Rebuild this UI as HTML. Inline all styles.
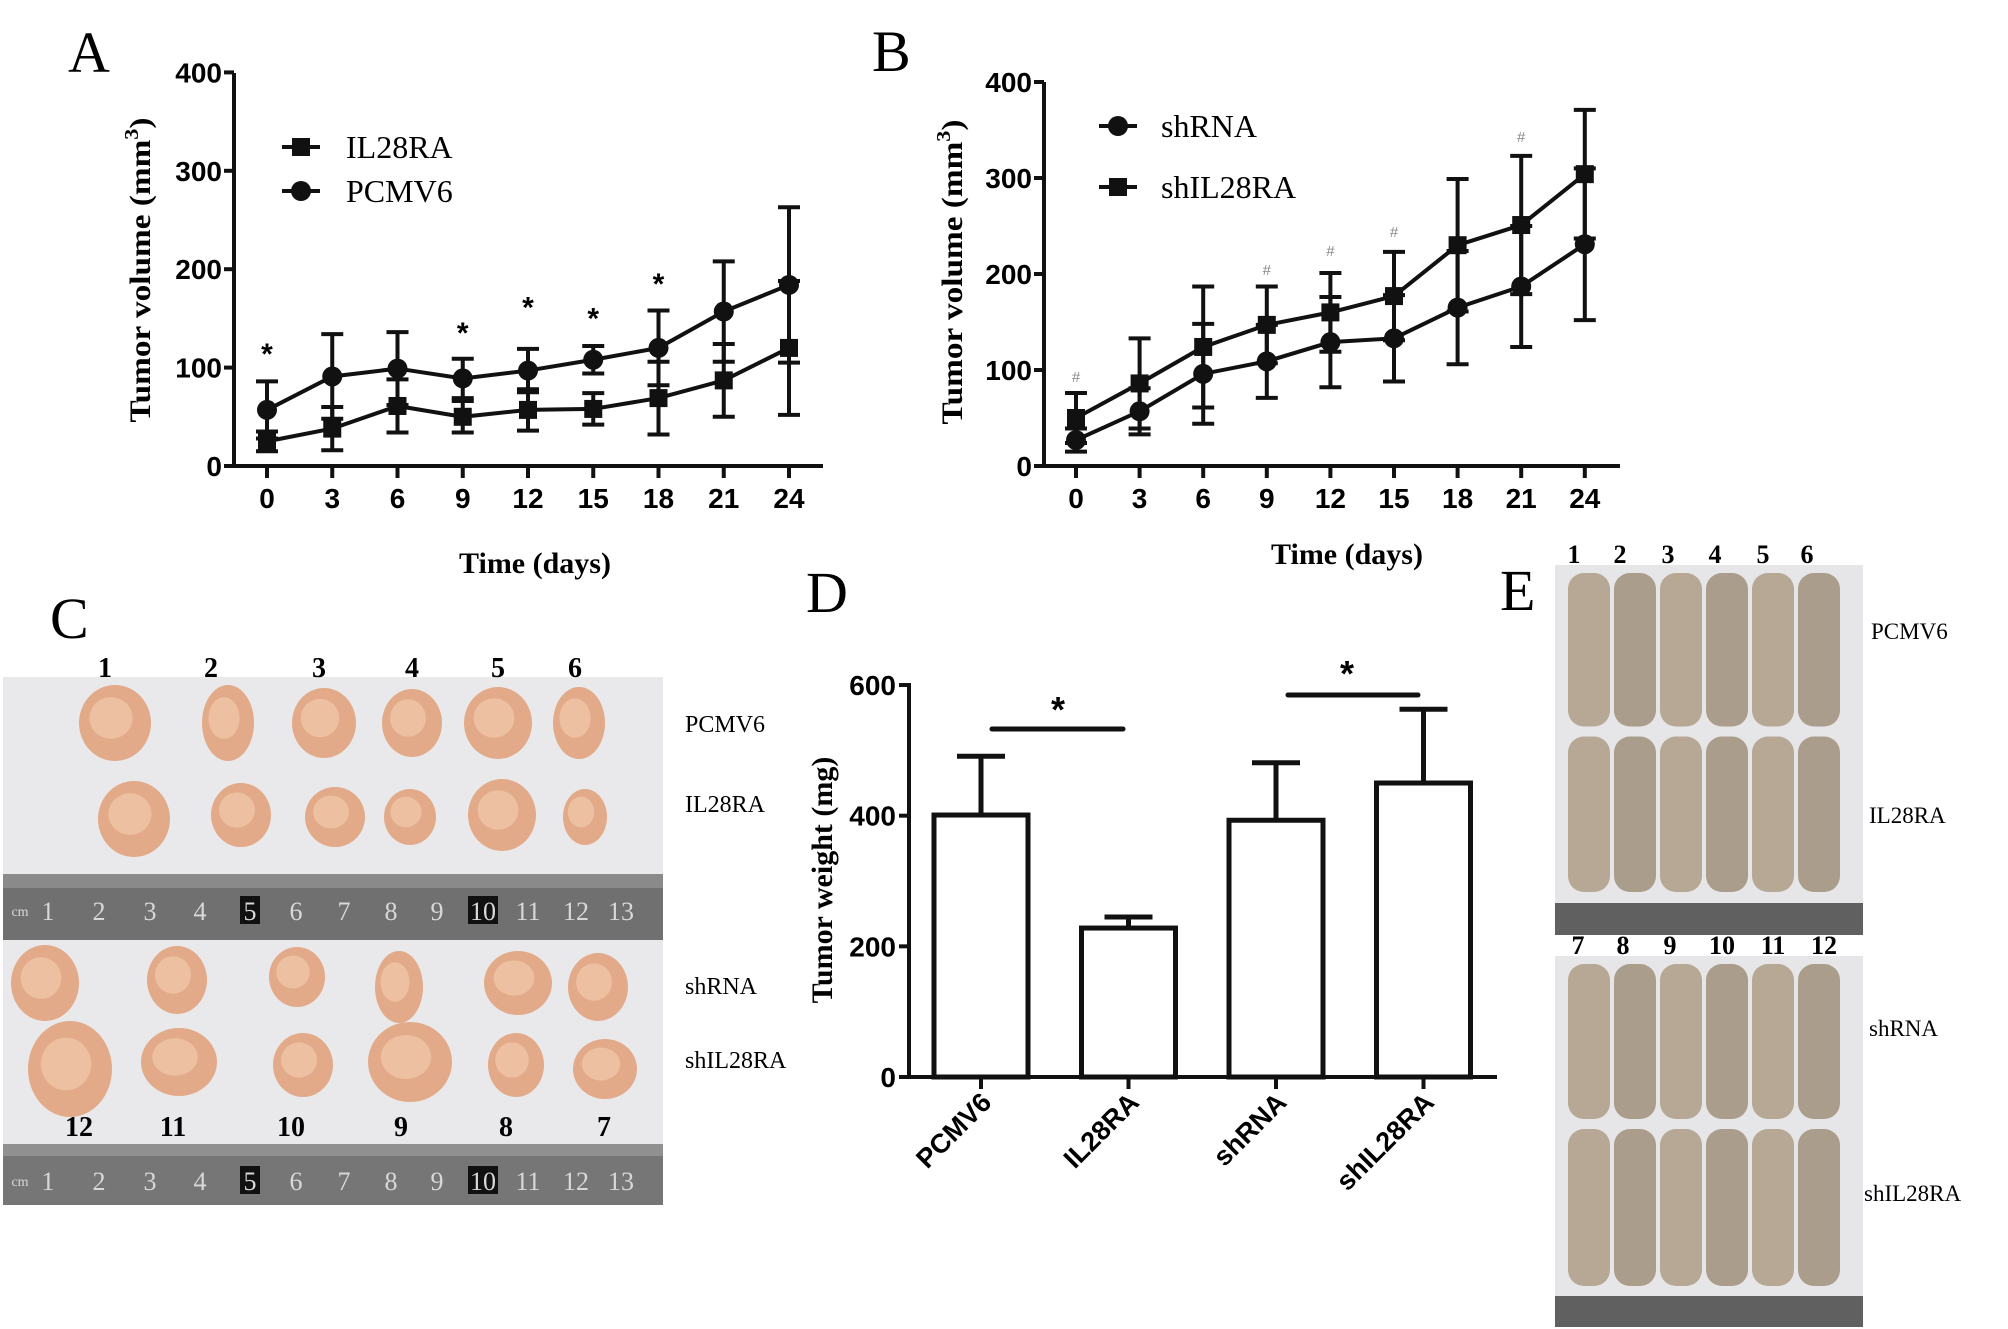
<!DOCTYPE html>
<html><head><meta charset="utf-8"><style>
html,body{margin:0;padding:0;background:#fff;}
svg{display:block;}
.serif{font-family:"Liberation Serif",serif;}
.sans{font-family:"Liberation Sans",sans-serif;}
</style></head><body>
<svg id="fig" width="2008" height="1329" viewBox="0 0 2008 1329" xmlns="http://www.w3.org/2000/svg">
<rect width="2008" height="1329" fill="#fff"/>
<text class="serif" x="68" y="72" font-size="58">A</text>
<text class="serif" x="872" y="71" font-size="58">B</text>
<text class="serif" x="50" y="638" font-size="58">C</text>
<text class="serif" x="806" y="612" font-size="58">D</text>
<text class="serif" x="1500" y="610" font-size="58">E</text>

<g id="chartA"></g>
<g id="chartB"></g>
<g id="chartD"></g>

<g>
  <rect x="3" y="677" width="660" height="528" fill="#e9e9ec"/>
  <rect x="3" y="874" width="660" height="66" fill="#707070"/>
  <rect x="3" y="874" width="660" height="14" fill="#8a8a8a"/>
  <rect x="3" y="1144" width="660" height="61" fill="#767676"/>
  <rect x="3" y="1144" width="660" height="12" fill="#909090"/>
  <g id="rulers" class="serif" font-size="26" fill="#d8d8d8" text-anchor="middle"></g>
  <g id="tumors"></g>
</g>
<g class="serif" font-weight="bold" font-size="28" text-anchor="middle">
  <text x="105" y="677">1</text><text x="211" y="677">2</text><text x="319" y="677">3</text><text x="412" y="677">4</text><text x="498" y="677">5</text><text x="575" y="677">6</text>
  <text x="79" y="1136">12</text><text x="173" y="1136">11</text><text x="291" y="1136">10</text><text x="401" y="1136">9</text><text x="506" y="1136">8</text><text x="604" y="1136">7</text>
</g>
<g class="serif" font-size="24">
  <text x="685" y="732">PCMV6</text><text x="685" y="812">IL28RA</text><text x="685" y="994">shRNA</text><text x="685" y="1068">shIL28RA</text>
</g>

<g>
  <rect x="1555" y="565" width="308" height="370" fill="#e6e6e8"/>
  <rect x="1555" y="903" width="308" height="32" fill="#606060"/>
  <rect x="1555" y="956" width="308" height="371" fill="#e6e6e8"/>
  <rect x="1555" y="1296" width="308" height="31" fill="#606060"/>
  <g id="mice"></g>
</g>
<g class="serif" font-weight="bold" font-size="26" text-anchor="middle">
  <text x="1574" y="563">1</text><text x="1620" y="563">2</text><text x="1668" y="563">3</text><text x="1715" y="563">4</text><text x="1763" y="563">5</text><text x="1807" y="563">6</text>
  <text x="1578" y="954">7</text><text x="1623" y="954">8</text><text x="1670" y="954">9</text><text x="1722" y="954">10</text><text x="1773" y="954">11</text><text x="1824" y="954">12</text>
</g>
<g class="serif" font-size="23">
  <text x="1871" y="639">PCMV6</text><text x="1869" y="823">IL28RA</text><text x="1869" y="1036">shRNA</text><text x="1864" y="1201">shIL28RA</text>
</g>
</svg>
<script>
// ---- Chart A data ----
const daysA = [0,3,6,9,12,15,18,21,24];
const il28raA = [25,38,61,50,57,58,69,87,120];
const il28raErrA = [10,22,27,16,21,16,37,37,68];
const pcmv6A = [57,91,99,89,97,108,120,157,184];
const pcmv6ErrA = [29,43,37,20,22,14,38,51,79];
const starDaysA = [0,9,12,15,18];
const starValsA = [116,137,163,152,187];
const yTicksA = [0,100,200,300,400];
// ---- Chart B data ----
const daysB = [0,3,6,9,12,15,18,21,24];
const shrnaB = [27,57,96,109,129,133,165,187,231];
const shrnaErrB = [12,24,52,38,47,45,59,63,79];
const shil28raB = [50,86,124,147,160,177,230,251,304];
const shil28raErrB = [26,47,63,40,41,46,69,72,67];
const hashDaysB = [0,9,12,15,21];
const hashValsB = [94,205,225,245,344];
const yTicksB = [0,100,200,300,400];
// ---- Chart D data ----
const groupsD = ["PCMV6","IL28RA","shRNA","shIL28RA"];
const weightD = [401,228,393,450];
const weightErrD = [90,17,88,113];
const yTicksD = [0,200,400,600];

const NS="http://www.w3.org/2000/svg";
function mk(parent,tag,attrs){const e=document.createElementNS(NS,tag);for(const k in attrs)e.setAttribute(k,attrs[k]);parent.appendChild(e);return e;}

function lineChart(g,cfg){
  const {x,y,x0,x1,y0,y1,ticks,days,series,titleX,titleY,ytitleX,ytitleY} = cfg;
  let e;
  e=mk(g,'line',{x1:x0,y1:y0,x2:x0,y2:y1,stroke:'#111','stroke-width':4});
  
  
  e=mk(g,'line',{x1:x0-6,y1:y0,x2:x1,y2:y0,stroke:'#111','stroke-width':4});
  
  
  ticks.forEach(t=>{
    mk(g,'line',{x1:x0-10,y1:y(t),x2:x0,y2:y(t),stroke:'#111','stroke-width':4});
    e=mk(g,'text',{x:x0-12,y:y(t)+10,'text-anchor':'end','font-size':28,'font-weight':'bold',class:'sans'});
    e.textContent=t;
    
    
  });
  days.forEach(d=>{
    mk(g,'line',{x1:x(d),y1:y0,x2:x(d),y2:y0+12,stroke:'#111','stroke-width':4});
    e=mk(g,'text',{x:x(d),y:y0+42,'text-anchor':'middle','font-size':28,'font-weight':'bold',class:'sans'});
    e.textContent=d;
    
    
  });
  series.forEach(s=>{
    const pts=days.map((d,i)=>x(d)+','+y(s.vals[i])).join(' ');
    e=mk(g,'polyline',{points:pts,fill:'none',stroke:'#111','stroke-width':4});
    
    
    days.forEach((d,i)=>{
      const cx=x(d),hi=y(s.vals[i]+s.err[i]),lo=y(s.vals[i]-s.err[i]);
      e=mk(g,'path',{d:`M${cx},${hi}V${lo}M${cx-11},${hi}H${cx+11}M${cx-11},${lo}H${cx+11}`,stroke:'#111','stroke-width':4,fill:'none'});
      
      
      if(s.shape==='sq'){e=mk(g,'rect',{x:cx-9,y:y(s.vals[i])-9,width:18,height:18,fill:'#111'});}
      else{e=mk(g,'circle',{cx:cx,cy:y(s.vals[i]),r:10,fill:'#111'});}
      
      
    });
  });
  e=mk(g,'text',{x:titleX,y:titleY,'text-anchor':'middle','font-size':30,'font-weight':'bold',class:'serif'});
  e.textContent='Time (days)';
  
  
  e=mk(g,'text',{x:0,y:0,'text-anchor':'middle','font-size':30,'font-weight':'bold',class:'serif',transform:`translate(${ytitleX},${ytitleY}) rotate(-90)`,textLength:305,lengthAdjust:'spacingAndGlyphs'});
  e.innerHTML='Tumor volume (mm<tspan dy="-12" font-size="20">3</tspan><tspan dy="12">)</tspan>';
  
  
}
function legend(g,items){
  items.forEach(it=>{
    const lg=mk(g,'g',{});
    
    
    mk(lg,'line',{x1:it.lx,y1:it.y,x2:it.lx+38,y2:it.y,stroke:'#111','stroke-width':4});
    if(it.shape==='sq')mk(lg,'rect',{x:it.lx+10,y:it.y-9,width:18,height:18,fill:'#111'});
    else mk(lg,'circle',{cx:it.lx+19,cy:it.y,r:10,fill:'#111'});
    const t=mk(lg,'text',{x:it.tx,y:it.y+11,'font-size':32,class:'serif'});
    t.textContent=it.label;
  });
}

const gA=document.getElementById('chartA');
const xA=d=>267+d/3*65.25, yA=v=>466-v*0.984;
lineChart(gA,{x:xA,y:yA,x0:234,x1:823,y0:466,y1:73,ticks:yTicksA,days:daysA,
  series:[{name:'il28ra',vals:il28raA,err:il28raErrA,shape:'sq'},{name:'pcmv6',vals:pcmv6A,err:pcmv6ErrA,shape:'ci'}],
  titleX:535,titleY:573,ytitleX:150,ytitleY:270});
starDaysA.forEach((d,i)=>{
  const e=mk(gA,'text',{x:xA(d),y:yA(starValsA[i])+12,'text-anchor':'middle','font-size':30,'font-weight':'bold',class:'sans'});
  e.textContent='*';
  
  
});
legend(gA,[{lx:282,tx:346,y:147,label:'IL28RA',shape:'sq'},{lx:282,tx:346,y:191,label:'PCMV6',shape:'ci'}]);

const gB=document.getElementById('chartB');
const xB=d=>1076+d/3*63.6, yB=v=>466-v*0.96;
lineChart(gB,{x:xB,y:yB,x0:1044,x1:1620,y0:466,y1:82,ticks:yTicksB,days:daysB,
  series:[{name:'shrna',vals:shrnaB,err:shrnaErrB,shape:'ci'},{name:'shil28ra',vals:shil28raB,err:shil28raErrB,shape:'sq'}],
  titleX:1347,titleY:564,ytitleX:962,ytitleY:272});
hashDaysB.forEach((d,i)=>{
  const e=mk(gB,'text',{x:xB(d),y:yB(hashValsB[i])+6,'text-anchor':'middle','font-size':15,fill:'#888',class:'sans'});
  e.textContent='#';
  
  
});
legend(gB,[{lx:1099,tx:1161,y:126,label:'shRNA',shape:'ci'},{lx:1099,tx:1161,y:187,label:'shIL28RA',shape:'sq'}]);

const gD=document.getElementById('chartD');
const yD=v=>1077-v*0.6533, xD=i=>981+i*147.5;
(function(){
  let e;
  e=mk(gD,'line',{x1:909,y1:1079,x2:909,y2:683,stroke:'#111','stroke-width':4});
  
  
  e=mk(gD,'line',{x1:903,y1:1077,x2:1497,y2:1077,stroke:'#111','stroke-width':4});
  
  
  yTicksD.forEach(t=>{
    mk(gD,'line',{x1:899,y1:yD(t),x2:909,y2:yD(t),stroke:'#111','stroke-width':4});
    e=mk(gD,'text',{x:896,y:yD(t)+10,'text-anchor':'end','font-size':28,'font-weight':'bold',class:'sans'});
    e.textContent=t;
    
    
  });
  groupsD.forEach((gname,i)=>{
    const cx=xD(i);
    e=mk(gD,'rect',{x:cx-47,y:yD(weightD[i]),width:94,height:yD(0)-yD(weightD[i]),fill:'#fff',stroke:'#111','stroke-width':5});
    
    
    const hi=yD(weightD[i]+weightErrD[i]);
    e=mk(gD,'path',{d:`M${cx},${yD(weightD[i])}V${hi}M${cx-24},${hi}H${cx+24}`,stroke:'#111','stroke-width':5,fill:'none'});
    
    
    mk(gD,'line',{x1:cx,y1:1077,x2:cx,y2:1089,stroke:'#111','stroke-width':4});
    e=mk(gD,'text',{x:0,y:0,'text-anchor':'end','font-size':27,'font-weight':'bold',class:'sans',transform:`translate(${cx+12},${1104}) rotate(-45)`});
    e.textContent=gname;
    
    
  });
  e=mk(gD,'text',{x:0,y:0,'text-anchor':'middle','font-size':30,'font-weight':'bold',class:'serif',transform:'translate(832,880) rotate(-90)'});
  e.textContent='Tumor weight (mg)';
  
  
  [[992,1123,729,1058,712],[1288,1418,695,1347,676]].forEach(s=>{
    e=mk(gD,'line',{x1:s[0],y1:s[2],x2:s[1],y2:s[2],stroke:'#111','stroke-width':5,'stroke-linecap':'round'});
    
    
    e=mk(gD,'text',{x:s[3],y:s[4]+10,'text-anchor':'middle','font-size':36,'font-weight':'bold',class:'sans'});
    e.textContent='*';
    
    
  });
})();

// ruler numbers
const rg=document.getElementById('rulers');
const rx=[48,99,150,200,250,296,344,391,437,483,528,576,621];
[920,1190].forEach(ry=>{
  rx.forEach((x,i)=>{
    const n=i+1;
    if(n===5||n===10){mk(rg,'rect',{x:x-(n===10?15:10),y:ry-24,width:n===10?30:20,height:28,fill:'#111'});}
    const t=mk(rg,'text',{x:x,y:ry});
    t.textContent=n;
  });
  const c=mk(rg,'text',{x:20,y:ry-4,'font-size':14});
  c.textContent='cm';
});
// tumors
const tg=document.getElementById('tumors');
[[115,723,36,38],[228,723,26,38],[324,723,32,35],[412,723,30,34],[498,723,34,36],[579,723,26,36],
 [134,819,36,38],[241,815,30,32],[335,817,30,30],[410,817,26,28],[502,815,34,36],[585,817,22,28],
 [45,983,34,38],[177,980,30,34],[297,977,28,30],[399,987,24,36],[518,983,34,32],[598,987,30,34],
 [70,1069,42,48],[179,1062,38,34],[303,1065,30,32],[410,1062,42,40],[516,1065,28,32],[605,1069,32,30]]
.forEach(t=>{mk(tg,'ellipse',{cx:t[0],cy:t[1],rx:t[2],ry:t[3],fill:'#e2aa88'});
  mk(tg,'ellipse',{cx:t[0]-4,cy:t[1]-5,rx:t[2]*0.6,ry:t[3]*0.55,fill:'#ecc0a0'});});
// mice
const mg=document.getElementById('mice');
[[565,900],[956,1294]].forEach(r=>{
  const mid=(r[0]+r[1])/2;
  [[r[0]+8,mid-6],[mid+4,r[1]-8]].forEach(h=>{
    for(let i=0;i<6;i++){
      mk(mg,'rect',{x:1568+i*46,y:h[0],width:42,height:h[1]-h[0],rx:16,fill:i%2?'#ab9d8b':'#b6a894'});
    }
  });
});
</script>
</body></html>
